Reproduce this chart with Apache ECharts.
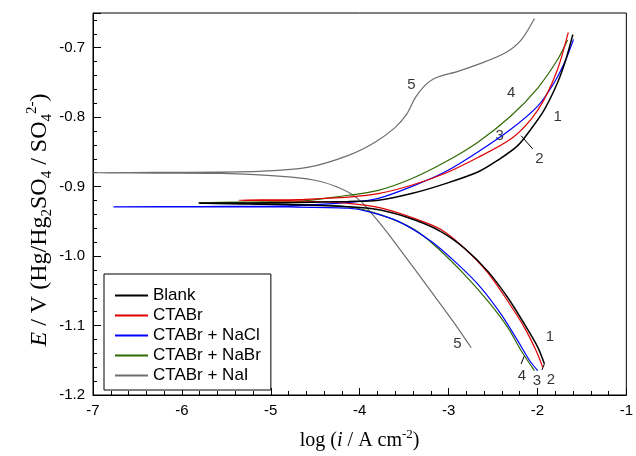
<!DOCTYPE html>
<html>
<head>
<meta charset="utf-8">
<script src="https://cdn.jsdelivr.net/npm/echarts@6/dist/echarts.min.js"></script>
<style>
html,body{margin:0;padding:0;background:#fff;}
#chart{width:636px;height:456px;}
</style>
</head>
<body>
<div id="chart"></div>
<script>
// [log(i / A cm-2), E / V] pairs, traced from cathodic end -> Ecorr dip -> anodic end
var blank = [
  [-1.922,-1.155],[-1.997,-1.131],[-2.146,-1.098],[-2.333,-1.060],[-2.557,-1.022],
  [-2.818,-0.989],[-3.081,-0.965],[-3.379,-0.948],[-3.753,-0.934],[-4.126,-0.929],
  [-4.686,-0.926],[-5.247,-0.925],[-5.807,-0.924],
  [-5.247,-0.9236],[-4.686,-0.9229],[-4.126,-0.9214],[-3.790,-0.9196],[-3.417,-0.910],
  [-3.043,-0.896],[-2.670,-0.879],[-2.446,-0.862],[-2.222,-0.841],[-2.072,-0.817],
  [-1.922,-0.789],[-1.773,-0.750],[-1.680,-0.717],[-1.602,-0.681]
];
var ctabr = [
  [-1.941,-1.160],[-2.016,-1.136],[-2.146,-1.103],[-2.333,-1.065],[-2.557,-1.024],
  [-2.818,-0.989],[-3.081,-0.962],[-3.379,-0.946],[-3.753,-0.931],[-4.126,-0.924],
  [-4.686,-0.9207],[-5.359,-0.9196],
  [-4.686,-0.9186],[-4.429,-0.9171],[-4.126,-0.915],[-3.790,-0.910],[-3.417,-0.898],
  [-3.043,-0.881],[-2.670,-0.858],[-2.296,-0.831],[-2.072,-0.803],[-1.922,-0.774],
  [-1.773,-0.731],[-1.653,-0.678]
];
var ctabrNaCl = [
  [-1.997,-1.165],[-2.090,-1.150],[-2.221,-1.122],[-2.408,-1.084],[-2.632,-1.046],
  [-2.894,-1.012],[-3.193,-0.979],[-3.566,-0.950],[-3.902,-0.936],[-4.126,-0.931],
  [-4.798,-0.9293],[-5.807,-0.929],[-6.770,-0.929],
  [-5.807,-0.9286],[-4.798,-0.9276],[-4.048,-0.922],[-3.790,-0.917],[-3.417,-0.900],
  [-3.043,-0.879],[-2.670,-0.850],[-2.296,-0.817],[-1.997,-0.784],[-1.810,-0.750],
  [-1.680,-0.717],[-1.594,-0.688]
];
var ctabrNaBr = [
  [-2.034,-1.165],[-2.184,-1.136],[-2.333,-1.103],[-2.557,-1.065],[-2.818,-1.027],
  [-3.118,-0.989],[-3.379,-0.962],[-3.753,-0.941],[-4.126,-0.929],[-4.686,-0.9257],
  [-5.247,-0.9243],[-5.815,-0.9229],
  [-5.247,-0.9221],[-4.798,-0.9219],[-4.126,-0.9124],[-3.790,-0.9053],[-3.417,-0.8886],
  [-3.043,-0.865],[-2.670,-0.836],[-2.296,-0.798],[-1.997,-0.758],[-1.773,-0.717],
  [-1.661,-0.689]
];
var ctabrNaI = [
  [-2.745,-1.132],[-2.894,-1.104],[-3.081,-1.071],[-3.379,-1.019],[-3.678,-0.968],
  [-3.790,-0.950],[-3.902,-0.933],[-3.980,-0.922],[-4.126,-0.908],[-4.429,-0.893],
  [-4.798,-0.886],[-5.549,-0.881],[-6.300,-0.8805],[-7.000,-0.880],
  [-6.300,-0.8795],[-5.134,-0.878],[-4.574,-0.872],[-4.126,-0.855],[-3.827,-0.836],
  [-3.603,-0.815],[-3.473,-0.796],[-3.379,-0.773],[-3.286,-0.757],[-3.155,-0.744],
  [-2.894,-0.734],[-2.669,-0.724],[-2.370,-0.708],[-2.184,-0.689],[-2.034,-0.658]
];
var seriesNames = ['Blank','CTABr','CTABr + NaCl','CTABr + NaBr','CTABr + NaI'];
var curveLabels = [
  ['5',-3.417,-0.754],['4',-2.296,-0.765],['1',-1.773,-0.800],['3',-2.426,-0.827],['2',-1.978,-0.860],
  ['1',-1.859,-1.116],['5',-2.901,-1.126],['4',-2.176,-1.172],['3',-2.005,-1.179],['2',-1.848,-1.178]
];
var leaderLines = [
  [[-2.184,-0.8267],[-2.053,-0.8457]],
  [[-2.184,-1.1553],[-2.146,-1.1433]],
  [[-1.949,-1.1639],[-1.922,-1.1553]]
];
var xTicks = {min:-7, max:-1, interval:1};
var yTicks = {min:-1.2, max:-0.65, interval:0.1};

var colors = ['#000000','#e00000','#0000ff','#2f6a00','#6e6e6e'];
var widths = [1.5,1.2,1.2,1.2,1.2];
var curves = [blank, ctabr, ctabrNaCl, ctabrNaBr, ctabrNaI];

var series = curves.map(function(d,i){
  return {name: seriesNames[i], type:'line', data:d, showSymbol:false, smooth:0.3,
    lineStyle:{color:colors[i], width:widths[i]}, itemStyle:{color:colors[i]}, z:10-i, silent:true};
});
leaderLines.forEach(function(seg){
  series.push({type:'line', data:seg, showSymbol:false, lineStyle:{color:'#000',width:1}, silent:true});
});
series.push({type:'scatter', symbolSize:0, silent:true, itemStyle:{color:'#000'},
  data: curveLabels.map(function(l){return {name:l[0], value:[l[1],l[2]]};}),
  label:{show:true, position:'inside', formatter:'{b}', color:'#000', textBorderWidth:0,
    fontSize:15, fontFamily:'Liberation Sans, Arial, sans-serif'}
});

var serif = 'Liberation Serif, Times New Roman, serif';
function richSet(fs, ss){
  return {
    n:{fontFamily:serif, fontSize:fs, color:'#000', lineHeight:fs+6},
    i:{fontFamily:serif, fontSize:fs, fontStyle:'italic', color:'#000', lineHeight:fs+6},
    sub:{fontFamily:serif, fontSize:ss, color:'#000', lineHeight:ss+2, verticalAlign:'bottom'},
    sup:{fontFamily:serif, fontSize:ss, color:'#000', lineHeight:ss+2, verticalAlign:'top'}
  };
}
var chart = echarts.init(document.getElementById('chart'), null, {renderer:'canvas'});
chart.setOption({
  animation:false,
  backgroundColor:'#fff',
  grid:{left:93, right:7, top:13, bottom:58, show:true, borderColor:'#000', borderWidth:1, backgroundColor:'transparent'},
  legend:{
    data:seriesNames, orient:'vertical', left:104, top:274, padding:[13,10,6,11],
    itemWidth:33, itemHeight:2, itemGap:3, icon:'rect',
    borderColor:'#000', borderWidth:1, backgroundColor:'#fff',
    textStyle:{fontSize:17, lineHeight:17, color:'#000', fontFamily:'Liberation Sans, Arial, sans-serif'}
  },
  graphic:[{
    type:'text', silent:true, x:40, y:220, rotation:Math.PI/2,
    style:{text:'{i|E}{n| / V (Hg/Hg}{sub|2}{n|SO}{sub|4}{n| / SO}{sub|4}{sup|2-}{n|)}',
      rich:richSet(24,15), align:'center', verticalAlign:'middle'}
  }],
  xAxis:{
    type:'value', min:xTicks.min, max:xTicks.max, interval:xTicks.interval,
    axisLine:{lineStyle:{color:'#000',width:1}},
    axisTick:{inside:true, length:7, lineStyle:{color:'#000'}},
    minorTick:{show:true, splitNumber:5, length:4, lineStyle:{color:'#000'}},
    splitLine:{show:false},
    axisLabel:{color:'#000', fontSize:15, margin:8, fontFamily:'Liberation Sans, Arial, sans-serif'},
    name:'{n|log (}{i|i}{n| / A cm}{sup|-2}{n|)}', nameLocation:'middle', nameGap:33,
    nameTextStyle:{rich:richSet(20,13)}
  },
  yAxis:{
    type:'value', min:yTicks.min, max:yTicks.max, interval:yTicks.interval,
    axisLine:{lineStyle:{color:'#000',width:1}},
    axisTick:{inside:true, length:8, lineStyle:{color:'#000'}},
    minorTick:{show:true, splitNumber:5, length:4, lineStyle:{color:'#000'}},
    splitLine:{show:false},
    axisLabel:{color:'#000', fontSize:15, margin:8, showMaxLabel:false,
      fontFamily:'Liberation Sans, Arial, sans-serif',
      formatter:function(v){return v.toFixed(1);}}
  },
  series:series
});
</script>
</body>
</html>
